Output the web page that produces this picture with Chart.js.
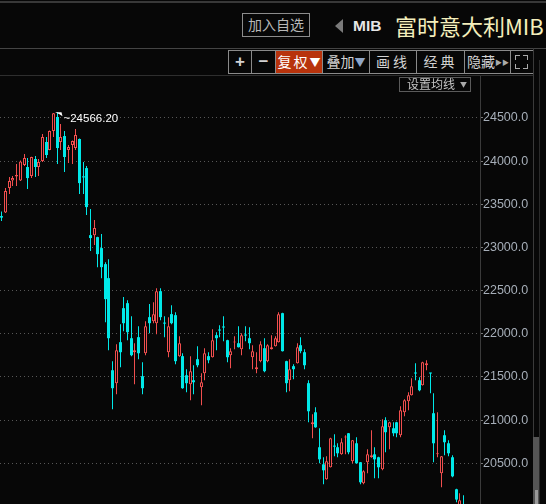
<!DOCTYPE html>
<html>
<head>
<meta charset="utf-8">
<script src="https://cdn.jsdelivr.net/npm/chart.js@4/dist/chart.umd.min.js"></script>
<style>
  html, body { margin: 0; padding: 0; }
  body { width: 546px; height: 504px; overflow: hidden; position: relative; background: #070707;
         font-family: "Noto Sans CJK SC", sans-serif; }
  .ln { position: absolute; }
  .btn { position: absolute; top: 50px; height: 24px; box-sizing: border-box; border: 1px solid #8a8a8a;
         color: #d2d2d2; font-size: 14px; line-height: 21px; text-align: center; white-space: nowrap; overflow: hidden; }
  #wrap { position: absolute; left: 0; top: 76px; width: 533px; height: 428px; }
</style>
</head>
<body>
<!-- header -->
<div class="ln" style="left:0;top:1px;width:546px;height:2px;background:#383838"></div>
<div class="ln" style="left:242px;top:13px;width:68px;height:24px;box-sizing:border-box;border:1px solid #8c8c8c;color:#b8b8b8;font-size:14px;line-height:21px;text-align:center">加入自选</div>
<div class="ln" style="left:335px;top:19px;width:0;height:0;border-right:8px solid #7a7a7a;border-top:7px solid transparent;border-bottom:7px solid transparent"></div>
<div class="ln" style="left:353px;top:17px;font:bold 15.5px 'Liberation Sans',sans-serif;line-height:17px;color:#e6e6e6">MIB</div>
<div class="ln" style="left:395px;top:12px;font-size:22px;line-height:26px;color:#f4efbc;white-space:nowrap">富时意大利MIB</div>
<div class="ln" style="left:0;top:48px;width:546px;height:1px;background:#444"></div>

<!-- toolbar -->
<div class="btn" style="left:228px;width:24px;font-family:'Liberation Sans';font-size:17px;font-weight:bold">+</div>
<div class="btn" style="left:251px;width:25px;font-family:'Liberation Sans';font-size:17px;font-weight:bold">−</div>
<div class="btn" style="left:275px;width:48px;background:#b8330c;color:#fff;letter-spacing:2px">复权<span style="font-size:11px;letter-spacing:0">▼</span></div>
<div class="btn" style="left:322px;width:48px">叠加<span style="font-size:11px;color:#8fa6c8">▼</span></div>
<div class="btn" style="left:369px;width:48px;letter-spacing:3px">画线</div>
<div class="btn" style="left:416px;width:49px;letter-spacing:3px">经典</div>
<div class="btn" style="left:464px;width:47px;text-align:left;padding-left:2px">隐藏<span style="font-size:7px;color:#aaa;vertical-align:2px">▶▶</span></div>
<div class="btn" style="left:510px;width:24px"></div>
<div class="ln" style="left:515px;top:55px;width:4px;height:4px;border-left:1px solid #aaa;border-top:1px solid #aaa"></div>
<div class="ln" style="left:523px;top:55px;width:4px;height:4px;border-right:1px solid #aaa;border-top:1px solid #aaa"></div>
<div class="ln" style="left:515px;top:64px;width:4px;height:4px;border-left:1px solid #aaa;border-bottom:1px solid #aaa"></div>
<div class="ln" style="left:523px;top:64px;width:4px;height:4px;border-right:1px solid #aaa;border-bottom:1px solid #aaa"></div>
<div class="ln" style="left:0;top:75px;width:533px;height:1px;background:#2e2e2e"></div>

<!-- right strip -->
<div class="ln" style="left:533px;top:48px;width:1px;height:456px;background:#3a3a3a"></div>
<div class="ln" style="left:539px;top:60px;width:1px;height:444px;background:#2a2a2a"></div>
<div class="ln" style="left:533px;top:437px;width:6px;height:67px;background:#555"></div>
<div class="ln" style="left:535px;top:490px;width:3px;height:14px;background:#9a9a9a"></div>

<div id="wrap"><canvas id="kline" width="533" height="428"></canvas></div>

<div class="ln" style="left:399px;top:77px;width:72px;height:15px;box-sizing:border-box;border:1px solid #5a5a5a;background:#070707"></div>
<div class="ln" style="left:407px;top:76px;font-size:12px;line-height:16px;color:#c4c4c4">设置均线</div>
<div class="ln" style="left:460px;top:77px;font-size:7px;line-height:14px;color:#aaa">▼</div>

<script>
const dayLabels = Array.from({ length: 130 }, (_, i) => String(i + 1));

const opens = [
  23364, 23404, 23688, 23775, 23822, 23775, 23955, 23932, 23828, 24025,
  23932, 24001, 24222, 24129, 24349, 24512, 24222, 24291, 24129, 24187,
  24152, 24257, 23820, 23920, 23143, 23143, 23120, 22993, 22807, 22645,
  21578, 21428, 21903, 22297, 22355, 21949, 21787, 21961, 21509, 21775,
  22193, 22146, 22123, 22494, 22128, 21787, 22228, 22216, 21741, 21741,
  21520, 21416, 21462, 21706, 21381, 21544, 21741, 21729, 21984, 22046,
  22081, 21926, 21752, 21899, 21891, 21822, 21988, 21949, 21729, 21590,
  21683, 21833, 21683, 21822, 21857, 21903, 22239, 21683, 21462, 21625,
  21660, 21868, 21787, 21428, 20952, 21091, 20686, 20488, 20315, 20454,
  20701, 20686, 20604, 20798, 20848, 20523, 20732, 20512, 20268, 20512,
  20570, 20604, 20570, 20431, 20999, 20917, 20906, 20975, 20825, 21091,
  21219, 21289, 21548, 21462, 21404, 21636, 21548, 21080, 20604, 20384,
  20825, 20732, 20570, 20199, 19990, 20010
];
const highs = [
  23416, 23688, 23816, 23828, 23967, 24007, 24083, 24036, 24052, 24059,
  24025, 24314, 24280, 24355, 24558, 24566.2, 24430, 24349, 24187, 24240,
  24372, 24262, 23990, 23943, 23445, 23317, 23125, 23155, 22830, 22865,
  21683, 21880, 22112, 22425, 22390, 22204, 21891, 22088, 21671, 22146,
  22344, 22367, 22529, 22529, 22204, 22193, 22332, 22251, 21972, 21775,
  21590, 21741, 21636, 21857, 21544, 21833, 21787, 22054, 22019, 22100,
  22204, 21930, 21833, 21972, 22088, 22007, 22088, 22077, 21868, 21787,
  21914, 21949, 21880, 21984, 21972, 22251, 22245, 21688, 21706, 21648,
  21891, 21961, 21822, 21462, 21068, 21149, 20906, 20570, 20581, 20795,
  20836, 20732, 20790, 20825, 20852, 20771, 20802, 20516, 20419, 20662,
  20883, 20686, 20575, 21010, 21033, 20980, 20975, 20980, 21161, 21242,
  21323, 21486, 21660, 21497, 21676, 21694, 21550, 21312, 21091, 20585,
  20883, 20767, 20593, 20205, 20152, 20129
];
const lows = [
  23306, 23399, 23619, 23712, 23712, 23770, 23944, 23677, 23804, 23816,
  23828, 23990, 24036, 24125, 24280, 23967, 24129, 23874, 23978, 23967,
  24129, 23619, 23619, 23375, 22958, 23028, 22772, 22645, 22135, 21810,
  21126, 21300, 21613, 22030, 21926, 21741, 21416, 21706, 21300, 21752,
  22007, 22123, 21996, 22158, 21961, 21729, 22112, 21648, 21735, 21365,
  21323, 21230, 21300, 21613, 21173, 21462, 21660, 21725, 21810, 21961,
  21914, 21671, 21601, 21822, 21840, 21752, 21914, 21822, 21590, 21544,
  21671, 21555, 21671, 21818, 21852, 21898, 21795, 21323, 21335, 21474,
  21655, 21775, 21590, 20975, 20790, 20912, 20500, 20257, 20310, 20450,
  20581, 20570, 20600, 20604, 20604, 20500, 20496, 20257, 20257, 20384,
  20565, 20326, 20326, 20419, 20628, 20662, 20813, 20802, 20802, 21045,
  21115, 21284, 21462, 21335, 21400, 21578, 21312, 20512, 20570, 20222,
  20593, 20581, 20338, 20050, 19960, 19900
];
const closes = [
  23346, 23654, 23770, 23804, 23839, 23996, 24036, 23804, 24048, 23932,
  23990, 24280, 24071, 24349, 24555, 24152, 24280, 24048, 24164, 24233,
  24303, 23746, 23812, 23468, 23109, 23225, 22923, 22772, 22402, 21949,
  21370, 21810, 21787, 22123, 22019, 21752, 21810, 21775, 21370, 22088,
  22123, 22228, 22494, 22193, 22118, 22088, 22123, 21683, 21891, 21370,
  21428, 21567, 21439, 21636, 21439, 21775, 21694, 21926, 21949, 22038,
  22073, 21729, 21799, 21907, 21845, 21984, 21980, 21891, 21799, 21613,
  21880, 21567, 21868, 21845, 21949, 22228, 21799, 21428, 21590, 21590,
  21845, 21799, 21636, 21103, 20975, 20917, 20546, 20419, 20523, 20790,
  20693, 20616, 20744, 20806, 20628, 20767, 20500, 20280, 20407, 20604,
  20593, 20546, 20454, 20929, 20860, 20975, 20848, 20848, 21115, 21230,
  21289, 21393, 21540, 21346, 21671, 21660, 21540, 20732, 20616, 20581,
  20744, 20616, 20349, 20080, 20071, 19950
];
const priceTicks = [20500, 21000, 21500, 22000, 22500, 23000, 23500, 24000, 24500];

const UP = '#f04e4e';
const DOWN = '#00e8e8';
const BG = '#070707';

const isUp = closes.map((c, i) => c >= opens[i]);

// snap bars to whole pixels so the thin candles stay crisp
const snapPlugin = {
  id: 'snap',
  beforeDatasetsDraw(chart) {
    chart.data.datasets.forEach((ds, i) => {
      chart.getDatasetMeta(i).data.forEach(el => { el.x = Math.floor(el.x) + 0.5; });
    });
  }
};

// marker at the highest high
const peakPlugin = {
  id: 'peak',
  afterDatasetsDraw(chart) {
    const idx = highs.indexOf(Math.max(...highs));
    const x = Math.floor(chart.scales.x.getPixelForValue(idx)) + 0.5;
    const y = chart.scales.y.getPixelForValue(highs[idx]);
    const ctx = chart.ctx;
    ctx.save();
    ctx.fillStyle = '#ffffff';
    ctx.beginPath();
    ctx.moveTo(x - 2.5, y);
    ctx.lineTo(x + 4, y);
    ctx.lineTo(x + 5, y + 4);
    ctx.lineTo(x + 1.5, y + 1.8);
    ctx.closePath();
    ctx.fill();
    ctx.font = '11.5px "Liberation Sans"';
    ctx.textBaseline = 'middle';
    ctx.fillText('~' + highs[idx].toFixed(2), x + 6, y + 6.5);
    ctx.restore();
  }
};

const ctx = document.getElementById('kline').getContext('2d');
new Chart(ctx, {
  type: 'bar',
  data: {
    labels: dayLabels,
    datasets: [
      {
        label: 'wick',
        data: lows.map((l, i) => [l, highs[i]]),
        backgroundColor: isUp.map(u => u ? UP : DOWN),
        barThickness: 1,
        grouped: false,
        borderWidth: 0,
        inflateAmount: 0,
        order: 2
      },
      {
        label: 'body',
        data: opens.map((o, i) => [o, closes[i]]),
        backgroundColor: isUp.map(u => u ? BG : DOWN),
        borderColor: isUp.map(u => u ? UP : DOWN),
        borderWidth: isUp.map(u => u ? 1 : 0),
        borderSkipped: false,
        barThickness: 3,
        minBarLength: 1,
        grouped: false,
        inflateAmount: 0,
        order: 1
      }
    ]
  },
  options: {
    responsive: false,
    animation: false,
    events: [],
    plugins: { legend: { display: false }, tooltip: { enabled: false } },
    layout: { padding: 0 },
    scales: {
      x: { display: false, offset: true, grid: { display: false } },
      y: {
        position: 'right',
        min: 20028.5,
        max: 24986.5,
        afterBuildTicks: s => { s.ticks = priceTicks.map(v => ({ value: v })); },
        afterFit: s => { s.width = 53; s.paddingTop = 0; s.paddingBottom = 0; },
        ticks: {
          color: '#a6aeb8',
          font: { family: 'Liberation Sans', size: 12.5 },
          padding: 0,
          callback: v => v.toFixed(1)
        },
        grid: { color: '#575757', tickLength: 3, tickColor: '#7a7a7a', tickBorderDash: [3, 0] },
        border: { display: true, color: '#3a3a3a', dash: [1, 3] }
      }
    }
  },
  plugins: [snapPlugin, peakPlugin]
});
</script>
</body>
</html>
